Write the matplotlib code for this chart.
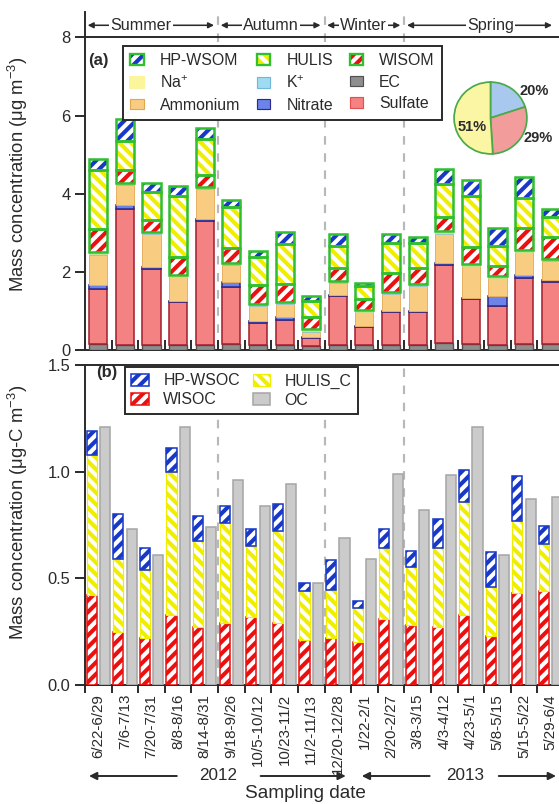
import numpy as np
import matplotlib
matplotlib.use('Agg')
import matplotlib.pyplot as plt
from matplotlib.patches import Patch
from matplotlib.transforms import blended_transform_factory

plt.rcParams['font.family'] = ['Liberation Sans', 'DejaVu Sans']
plt.rcParams['mathtext.default'] = 'regular'
plt.rcParams['hatch.linewidth'] = 2.1

# ---------------- data ----------------
dates = ['6/22-6/29', '7/6-7/13', '7/20-7/31', '8/8-8/16', '8/14-8/31',
         '9/18-9/26', '10/5-10/12', '10/23-11/2', '11/2-11/13', '12/20-12/28',
         '1/22-2/1', '2/20-2/27', '3/8-3/15', '4/3-4/12', '4/23-5/1',
         '5/8-5/15', '5/15-5/22', '5/29-6/4']
seasons = ['Summer', 'Autumn', 'Winter', 'Spring']
season_counts = [5, 4, 3, 6]
years = ['2012', '2013']
year_counts = [10, 8]

# panel (a), ug m-3 (stack components)
ec        = [0.15, 0.12, 0.12, 0.12, 0.12, 0.15, 0.12, 0.12, 0.10, 0.12, 0.12, 0.12, 0.12, 0.17, 0.15, 0.12, 0.15, 0.15]
sulfate   = [1.40, 3.48, 1.96, 1.10, 3.18, 1.47, 0.56, 0.66, 0.20, 1.26, 0.46, 0.86, 0.84, 2.01, 1.15, 1.00, 1.70, 1.60]
nitrate   = [0.11, 0.11, 0.05, 0.04, 0.06, 0.12, 0.06, 0.07, 0.04, 0.03, 0.03, 0.03, 0.03, 0.05, 0.04, 0.26, 0.07, 0.03]
ammonium  = [0.78, 0.51, 0.84, 0.60, 0.76, 0.43, 0.39, 0.33, 0.13, 0.30, 0.35, 0.42, 0.65, 0.75, 0.80, 0.45, 0.58, 0.50]
potassium = [0.02] * 18
sodium    = [0.04] * 18
wisom     = [0.59, 0.32, 0.29, 0.45, 0.31, 0.37, 0.47, 0.46, 0.31, 0.32, 0.28, 0.49, 0.39, 0.37, 0.44, 0.26, 0.55, 0.56]
hulis     = [1.51, 0.75, 0.73, 1.57, 0.92, 1.05, 0.73, 1.01, 0.42, 0.57, 0.34, 0.75, 0.65, 0.85, 1.30, 0.51, 0.77, 0.51]
hp_wsom   = [0.30, 0.55, 0.23, 0.25, 0.26, 0.19, 0.14, 0.32, 0.12, 0.32, 0.08, 0.25, 0.16, 0.36, 0.41, 0.45, 0.54, 0.19]

# panel (b), ug-C m-3
wisoc   = [0.42, 0.25, 0.22, 0.33, 0.27, 0.29, 0.32, 0.29, 0.21, 0.22, 0.20, 0.31, 0.28, 0.27, 0.33, 0.23, 0.43, 0.44]
hulis_c = [0.66, 0.34, 0.32, 0.67, 0.405, 0.47, 0.33, 0.43, 0.23, 0.225, 0.16, 0.33, 0.275, 0.37, 0.53, 0.23, 0.34, 0.22]
hp_wsoc = [0.11, 0.21, 0.10, 0.11, 0.115, 0.08, 0.08, 0.13, 0.04, 0.14, 0.035, 0.09, 0.075, 0.14, 0.15, 0.165, 0.21, 0.085]
oc      = [1.21, 0.73, 0.61, 1.21, 0.74, 0.96, 0.84, 0.94, 0.48, 0.69, 0.59, 0.99, 0.82, 0.985, 1.21, 0.61, 0.87, 0.88]

pie_values = [20, 29, 51]
pie_labels = ['20%', '29%', '51%']

# ---------------- styles ----------------
W, H, DPI = 559, 804, 140
GREEN = '#2fbf2f'
BLUE = '#1838c8'
YEL = '#f0ee00'
RED = '#ea1010'
TXT = '#2a2a2a'
HF = '////'
HB = '\\\\\\\\'

def fx(px):
    return px / W

def fy(py):
    return 1 - py / H

fig = plt.figure(figsize=(W / DPI, H / DPI), dpi=DPI)
ax1 = fig.add_axes([fx(85), fy(350), (564 - 85) / W, (350 - 12) / H])
ax2 = fig.add_axes([fx(85), fy(685), (564 - 85) / W, (685 - 365) / H])

n = len(dates)
x = np.arange(n)

# season boundaries
bounds = np.cumsum(season_counts)[:-1] - 0.5
for ax in (ax1, ax2):
    for b in bounds:
        ax.axvline(b, color='#b8b8b8', ls=(0, (4, 4)), lw=1.1, zorder=1)

# ---------------- panel (a) ----------------
inorg = [
    (ec, '#8e8e8e', '#505050', 0.7),
    (sulfate, '#f58282', '#a0202c', 0.8),
    (nitrate, '#6c84ea', '#2a2a8a', 0.8),
    (ammonium, '#f8cd82', '#e6b060', 0.5),
    (potassium, '#9fdcf2', '#80c8e0', 0.3),
    (sodium, '#fbf59c', '#bfe07a', 0.3),
]
bw = 0.68
bottom = np.zeros(n)
for vals, fc, edc, lw in inorg:
    v = np.array(vals)
    ax1.bar(x, v, bw, bottom=bottom, color=fc, edgecolor=edc, linewidth=lw, zorder=3)
    bottom += v
organics = [(wisom, RED, HF), (hulis, YEL, HB), (hp_wsom, BLUE, HF)]
for vals, col, hatch in organics:
    v = np.array(vals)
    ax1.bar(x, v, bw, bottom=bottom, facecolor='white', edgecolor=col, hatch=hatch,
            linewidth=0, zorder=3)
    ax1.bar(x, v, bw, bottom=bottom, facecolor='none', edgecolor=GREEN,
            linewidth=1.3, zorder=4)
    bottom += v

ax1.set_xlim(-0.5, n - 0.5)
ax1.set_ylim(0, 8.65)
ax1.set_yticks([0, 2, 4, 6, 8])
ax1.axhline(8, color=TXT, lw=1.0, zorder=5)
ax1.spines['top'].set_visible(False)
ax1.spines['right'].set_visible(False)
ax1.set_xticks(np.arange(n + 1) - 0.5)
ax1.set_xticklabels([])
ax1.tick_params(axis='x', direction='in', length=5, width=1.0, color=TXT)
ax1.tick_params(axis='y', direction='out', length=5, width=1.0, color=TXT,
                labelsize=8.5, labelcolor=TXT, pad=2.5)
ax1.set_ylabel('Mass concentration (μg m$^{-3}$)', fontsize=9.5, color=TXT)
ax1.yaxis.set_label_coords(-0.115, 0.52)

# season header
starts = np.concatenate([[-0.5], bounds])
ends = np.concatenate([bounds, [n - 0.5]])
tweak = [-0.4, 0.0, -0.05, 0.25]
ends_vis = list(ends[:-1]) + [17.2]
yv = 8.31
for name, s, e, ev, tw in zip(seasons, starts, ends, ends_vis, tweak):
    ax1.annotate('', xy=(s + 0.1, yv), xytext=(ev - 0.15, yv),
                 arrowprops=dict(arrowstyle='<|-|>', color=TXT, lw=0.8,
                                 mutation_scale=6, shrinkA=0, shrinkB=0),
                 annotation_clip=False, zorder=6)
    ax1.text((s + e) / 2 + tw, yv, name, ha='center', va='center', fontsize=8.3,
             color=TXT, zorder=7,
             bbox=dict(facecolor='white', edgecolor='none', pad=0.6))

fig.text(fx(88), fy(61), '(a)', fontsize=8.5, fontweight='bold', va='center', color=TXT)

def tup(col, hatch):
    return (Patch(facecolor='white', edgecolor=col, hatch=hatch, linewidth=0),
            Patch(facecolor='none', edgecolor=GREEN, linewidth=1.2))

h_hp = tup(BLUE, HF)
h_hu = tup(YEL, HB)
h_wi = tup(RED, HF)
h_na = Patch(facecolor='#fbf59c', edgecolor='#fbf59c')
h_k = Patch(facecolor='#9fdcf2', edgecolor='#70b8d8', linewidth=0.6)
h_ec = Patch(facecolor='#8e8e8e', edgecolor='#505050', linewidth=0.6)
h_am = Patch(facecolor='#f8cd82', edgecolor='#e0a850', linewidth=0.6)
h_ni = Patch(facecolor='#6c84ea', edgecolor='#2a2a8a', linewidth=0.6)
h_su = Patch(facecolor='#f58282', edgecolor='#e05050', linewidth=0.6)
handles = [h_hp, h_na, h_am, h_hu, h_k, h_ni, h_wi, h_ec, h_su]
labels = ['HP-WSOM', 'Na$^{+}$', 'Ammonium', 'HULIS', 'K$^{+}$', 'Nitrate',
          'WISOM', 'EC', 'Sulfate']
leg1 = ax1.legend(handles, labels, ncol=3, loc='upper left',
                  bbox_to_anchor=(fx(123), fy(46)), bbox_transform=fig.transFigure,
                  fontsize=8.2, frameon=True, fancybox=False, edgecolor=TXT,
                  framealpha=1, handlelength=0.85, handleheight=0.65,
                  handletextpad=1.0, columnspacing=1.05, labelspacing=0.4,
                  borderpad=0.45, borderaxespad=0)
leg1.get_frame().set_linewidth(1.0)
leg1.set_zorder(8)
for t in leg1.get_texts():
    t.set_color(TXT)

# pie inset
pax = fig.add_axes([fx(453), fy(155), (528 - 453) / W, (155 - 81) / H])
wedges, _ = pax.pie(pie_values, colors=['#a9c8ee', '#f39c9c', '#fbf6a4'],
                    startangle=90, counterclock=False,
                    wedgeprops=dict(edgecolor='#4aaa4a', linewidth=0.9))
pax.set_aspect('auto')
pax.set_xlim(-1.03, 1.03)
pax.set_ylim(-1.03, 1.03)
label_pos = [(534, 91), (538, 138), (472, 127)]
for lab, (px_, py_) in zip(pie_labels, label_pos):
    fig.text(fx(px_), fy(py_), lab, ha='center', va='center', fontsize=7.5,
             fontweight='bold', color=TXT)

# ---------------- panel (b) ----------------
w2 = 0.38
wv = np.array(wisoc)
hv = np.array(hulis_c)
pv = np.array(hp_wsoc)
ax2.bar(x - 0.25, wv, w2, facecolor='white', edgecolor=RED, hatch=HF,
        linewidth=0.8, zorder=3)
ax2.bar(x - 0.25, hv, w2, bottom=wv, facecolor='white', edgecolor=YEL,
        hatch=HB, linewidth=0.6, zorder=3)
ax2.bar(x - 0.25, pv, w2, bottom=wv + hv, facecolor='white', edgecolor=BLUE,
        hatch=HF, linewidth=0.8, zorder=3)
ax2.bar(x + 0.25, oc, w2, facecolor='#cbcbcb', edgecolor='#a6a6a6',
        linewidth=0.8, zorder=3)

ax2.set_xlim(-0.5, n - 0.5)
ax2.set_ylim(0, 1.5)
ax2.set_yticks([0.0, 0.5, 1.0, 1.5])
ax2.set_yticklabels(['0.0', '0.5', '1.0', '1.5'])
ax2.spines['right'].set_visible(False)
ax2.set_xticks(np.arange(n + 1) - 0.5)
ax2.set_xticklabels([])
ax2.set_xticks(x, minor=True)
ax2.set_xticklabels(dates, minor=True, rotation=90, fontsize=7.8, color=TXT)
ax2.tick_params(axis='x', which='major', direction='out', length=4, width=1.0, color=TXT)
ax2.tick_params(axis='x', which='minor', length=0, pad=4.5)
ax2.tick_params(axis='y', direction='out', length=5, width=1.0, color=TXT,
                labelsize=8.5, labelcolor=TXT, pad=2.5)
ax2.set_ylabel('Mass concentration (μg-C m$^{-3}$)', fontsize=9.5, color=TXT)
ax2.yaxis.set_label_coords(-0.115, 0.54)

for ax in (ax1, ax2):
    for sp in ax.spines.values():
        sp.set_color(TXT)
        sp.set_linewidth(1.0)

fig.text(fx(96), fy(373), '(b)', fontsize=8.5, fontweight='bold', va='center', color=TXT)

hb = [Patch(facecolor='white', edgecolor=BLUE, hatch=HF, linewidth=0.8),
      Patch(facecolor='white', edgecolor=RED, hatch=HF, linewidth=0.8),
      Patch(facecolor='white', edgecolor=YEL, hatch=HB, linewidth=0.6),
      Patch(facecolor='#cbcbcb', edgecolor='#a6a6a6', linewidth=0.8)]
lb = ['HP-WSOC', 'WISOC', 'HULIS_C', 'OC']
leg2 = ax2.legend(hb, lb, ncol=2, loc='upper left',
                  bbox_to_anchor=(fx(125), fy(367)), bbox_transform=fig.transFigure,
                  fontsize=8.2, frameon=True, fancybox=False, edgecolor=TXT,
                  framealpha=1, handlelength=1.1, handleheight=0.8,
                  handletextpad=0.9, columnspacing=0.8, labelspacing=0.25,
                  borderpad=0.4, borderaxespad=0)
leg2.get_frame().set_linewidth(1.0)
for t in leg2.get_texts():
    t.set_color(TXT)

# year annotations below x labels
tr = blended_transform_factory(ax2.transData, fig.transFigure)
year_arrows = {'2012': (4.5, 2.95, -0.35, 6.1, 9.3),
               '2013': (13.8, 12.45, 9.9, 15.05, 17.2)}
yy = fy(776)
for yr in years:
    c, l0, l1, r0, r1 = year_arrows[yr]
    ax2.text(c, yy, yr, transform=tr, ha='center', va='center', fontsize=8.8, color=TXT)
    for a, b in ((l0, l1), (r0, r1)):
        ax2.annotate('', xy=(b, yy), xytext=(a, yy), xycoords=tr, textcoords=tr,
                     arrowprops=dict(arrowstyle='-|>', color=TXT, lw=1.0,
                                     mutation_scale=8, shrinkA=0, shrinkB=0),
                     annotation_clip=False)

fig.text(fx(305), fy(793), 'Sampling date', ha='center', va='center', fontsize=9.8, color=TXT)

fig.savefig('out.png', dpi=DPI)
